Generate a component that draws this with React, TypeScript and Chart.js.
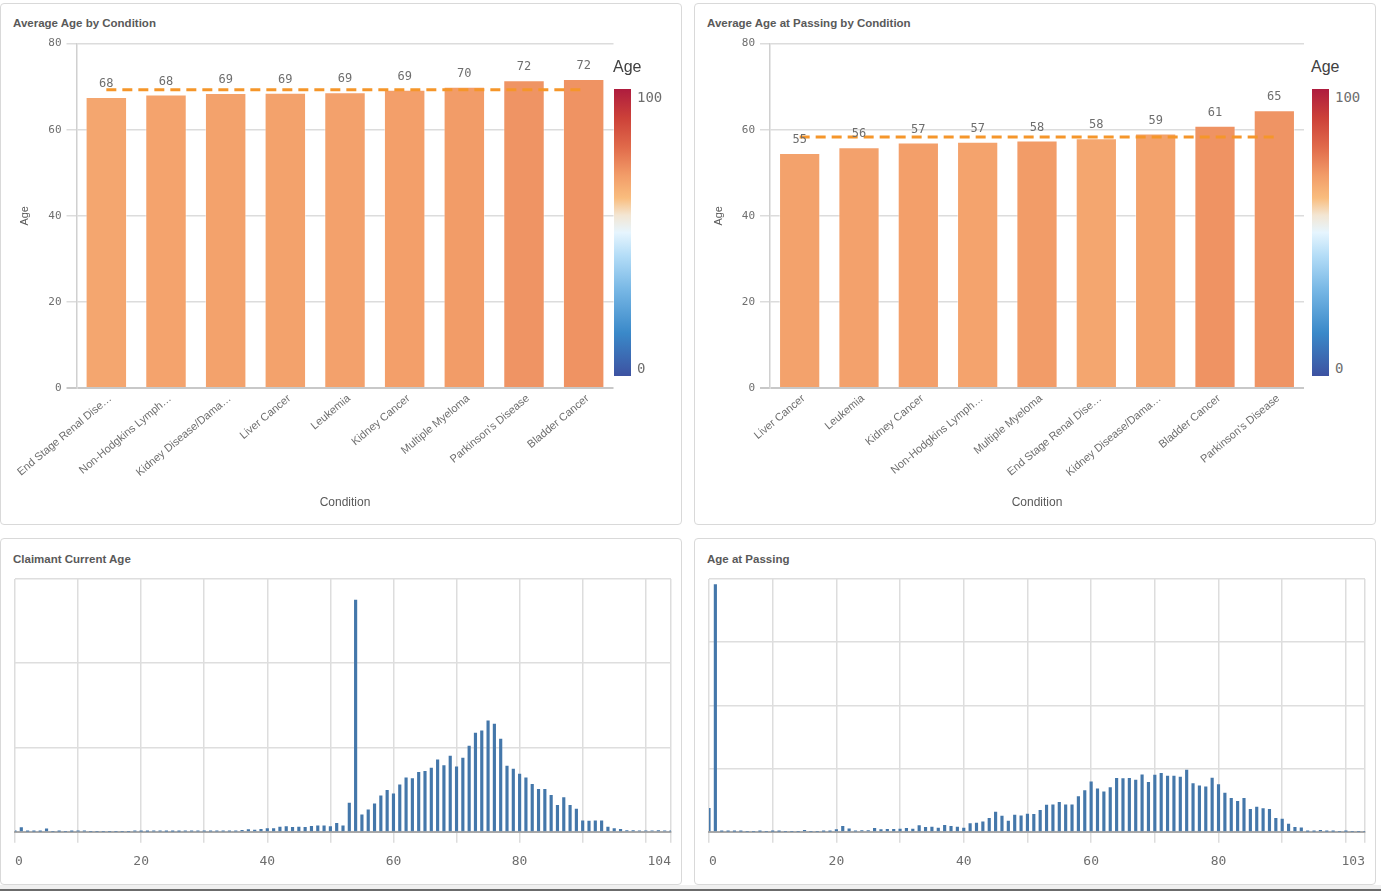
import React, { useEffect, useRef } from 'react';
import { Chart, registerables } from 'chart.js';
Chart.register(...registerables);

// ---------- DATA ----------
const conditionsA = ['End Stage Renal Dise…', 'Non-Hodgkins Lymph…', 'Kidney Disease/Dama…', 'Liver Cancer', 'Leukemia', 'Kidney Cancer', 'Multiple Myeloma', "Parkinson's Disease", 'Bladder Cancer'];
const avgAgeA = [67.6, 68.2, 68.5, 68.6, 68.7, 69.3, 70.0, 71.5, 71.8];
const avgLineA = 69.3;

const conditionsB = ['Liver Cancer', 'Leukemia', 'Kidney Cancer', 'Non-Hodgkins Lymph…', 'Multiple Myeloma', 'End Stage Renal Dise…', 'Kidney Disease/Dama…', 'Bladder Cancer', "Parkinson's Disease"];
const avgAgeB = [54.6, 55.9, 57.0, 57.2, 57.5, 58.0, 59.1, 60.9, 64.5];
const avgLineB = 58.3;

const barTicks = [0, 20, 40, 60, 80];
const legendRange = ['0', '100'];

// Claimant current age: count per age 0..104 (units: 100 per grid interval)
const currentAgeCounts = [
  0.5, 5, 0.3, 0.3, 0.3, 3.5, 0, 0.3, 0, 0.3,
  0.5, 0.5, 0, 0, 0, 0, 0, 0, 0, 0.5,
  0.3, 0.3, 0.5, 0.5, 0.3, 0.3, 0.3, 0.5, 0.5, 0.5,
  0.5, 0.5, 0.5, 0.6, 0.5, 0.5, 1.6, 2.4, 2, 2.8,
  3.6, 3.6, 5.6, 6, 5.2, 5.6, 5.2, 6.3, 7.1, 7.1,
  6, 10, 7.1, 34, 275, 20, 26, 33, 42.5, 49,
  45, 55.6, 64, 63, 70.6, 71.8, 75.4, 85.3, 78.6, 89.7,
  77, 87.3, 101.6, 117, 119.8, 131.7, 127.8, 110, 77.8, 74.2,
  68.3, 64, 56.3, 50.4, 50.4, 43.3, 31.3, 40.5, 31.3, 27,
  13, 12.7, 13, 13, 5.6, 3.6, 2.8, 1.2, 1.2, 0.8,
  0.8, 0.8, 1.2, 0.8, 0.5,
];
const currentAgeGrid = [0, 10, 20, 30, 40, 50, 60, 70, 80, 90, 100, 104];
const currentAgeLabels = ['0', '20', '40', '60', '80', '104'];

// Age at passing: count per age 0..103
const passingAgeCounts = [
  37, 391, 0.4, 0.4, 0.4, 0.4, 0, 0, 0.4, 0,
  0.4, 0.4, 0, 0, 0, 2, 0, 0, 0.5, 0.5,
  3.2, 8.4, 4.7, 1, 1.6, 1.6, 5.3, 3.2, 3.7, 3.7,
  4.2, 5.3, 4.2, 9.5, 6.9, 7.4, 5.8, 10, 8.4, 7.4,
  5.8, 12.7, 13.7, 15.8, 21, 31, 24.8, 16.9, 26.4, 25.3,
  28, 27.4, 33.8, 42.2, 42.7, 46.4, 42.7, 42.7, 55.4, 64.9,
  79.1, 68, 63.3, 70, 84.4, 83.9, 84.4, 81.8, 90.2, 78,
  89.7, 92.3, 88, 88, 86.5, 97.6, 76, 72.8, 71.2, 85,
  74.4, 61.2, 52.7, 48, 52.7, 35.3, 39, 36.4, 35.3, 21,
  20, 12.1, 6.9, 6.3, 0.5, 0.5, 2, 0.4, 0.4, 0,
  0.4, 0, 0, 0,
];
const passingAgeGrid = [0, 10, 20, 30, 40, 50, 60, 70, 80, 90, 100, 103];
const passingAgeLabels = ['0', '20', '40', '60', '80', '103'];

// ---------- STYLE ----------
const SANS = '"Liberation Sans", Arial, sans-serif';
const MONO = '"DejaVu Sans Mono", monospace';
const TEXT = '#595959';
const TICK = '#6e6e6e';
const colorStops: [number, string][] = [
  [0, '#3d52a1'], [0.15, '#3a89c9'], [0.3, '#77b7e5'], [0.42, '#b4ddf7'], [0.5, '#e6f5fe'],
  [0.56, '#f3e6d3'], [0.62, '#f9bd7e'], [0.7, '#f29c68'], [0.8, '#e0694a'], [0.9, '#cc4139'], [1, '#ae1c3e'],
];
function hexToRgb(h: string) {
  return [parseInt(h.slice(1, 3), 16), parseInt(h.slice(3, 5), 16), parseInt(h.slice(5, 7), 16)];
}
function ageColor(age: number) {
  const t = Math.max(0, Math.min(1, age / 100));
  for (let i = 1; i < colorStops.length; i++) {
    const [t1, c1] = colorStops[i];
    const [t0, c0] = colorStops[i - 1];
    if (t <= t1) {
      const f = (t - t0) / (t1 - t0);
      const a = hexToRgb(c0), b = hexToRgb(c1);
      const m = a.map((v, k) => Math.round(v + (b[k] - v) * f));
      return `rgb(${m[0]},${m[1]},${m[2]})`;
    }
  }
  return colorStops[colorStops.length - 1][1];
}
const colorByCondition: Record<string, number> = {};
conditionsA.forEach((c, i) => { colorByCondition[c] = avgAgeA[i]; });

const valueLabelPlugin = {
  id: 'valueLabels',
  afterDatasetsDraw(chart: any) {
    const ctx = chart.ctx;
    const meta = chart.getDatasetMeta(1);
    const ds = chart.data.datasets[1];
    ctx.save();
    ctx.font = `12px ${MONO}`;
    ctx.fillStyle = TICK;
    ctx.textAlign = 'center';
    ctx.textBaseline = 'middle';
    meta.data.forEach((el: any, i: number) => {
      ctx.fillText(String(Math.round(ds.data[i])), el.x, el.y - 13);
    });
    ctx.restore();
  },
};

type BarProps = {
  px: number; title: string; conditions: string[]; values: number[]; avg: number;
  plotLeft: number; plotRight: number; legendLeft: number;
};

function BarPanel({ px, title, conditions, values, avg, plotLeft, plotRight, legendLeft }: BarProps) {
  const ref = useRef<HTMLCanvasElement>(null);
  const cLeft = px + 4, cTop = 32, cW = 612, cH = 488;
  useEffect(() => {
    const chart = new Chart(ref.current!, {
      type: 'bar',
      data: {
        labels: conditions,
        datasets: [
          {
            type: 'line',
            data: conditions.map(() => avg),
            borderColor: '#f5962a',
            borderWidth: 3,
            borderDash: [10, 6],
            pointRadius: 0,
            order: 0,
          } as any,
          {
            type: 'bar',
            data: values,
            backgroundColor: conditions.map((c) => ageColor(colorByCondition[c])),
            borderColor: 'rgba(255,255,255,0.45)',
            borderWidth: 1,
            categoryPercentage: 1,
            barPercentage: 0.695,
            order: 1,
          },
        ],
      },
      options: {
        responsive: false,
        animation: false,
        layout: { padding: { top: 7, left: 0, right: cLeft + cW - plotRight, bottom: 0 } },
        plugins: { legend: { display: false }, tooltip: { enabled: false } },
        scales: {
          x: {
            grid: { display: false },
            border: { display: false },
            ticks: {
              maxRotation: 40, minRotation: 40, autoSkip: false, padding: -4, labelOffset: 4,
              color: TICK, font: { family: SANS, size: 11 },
            },
            title: { display: true, text: 'Condition', color: TEXT, font: { family: SANS, size: 12 }, padding: { top: 0, bottom: 10 } },
            afterFit: (s: any) => { s.height = cH - (388 - cTop); },
          },
          y: {
            min: 0, max: 80,
            afterBuildTicks: (s: any) => { s.ticks = barTicks.map((v) => ({ value: v })); },
            grid: {
              color: (c: any) => (c.tick && c.tick.value === 0 ? '#c8c8c8' : '#dcdcdc'),
              lineWidth: (c: any) => (c.tick && c.tick.value === 0 ? 2 : 1.5),
              tickLength: 10,
            },
            border: { display: true, color: '#d0d0d0', width: 1.5 },
            ticks: { color: TICK, font: { family: MONO, size: 11 }, padding: 5 },
            title: { display: true, text: 'Age', color: TEXT, font: { family: SANS, size: 11 }, padding: { top: 14, bottom: 0 } },
            afterFit: (s: any) => { s.width = plotLeft - cLeft; },
          },
        },
      },
      plugins: [valueLabelPlugin],
    });
    return () => chart.destroy();
  }, []);
  const gradient = `linear-gradient(to top, ${colorStops.map(([t, c]) => `${c} ${t * 100}%`).join(', ')})`;
  return (
    <>
      <div style={{ position: 'absolute', left: px, top: 3, width: 680, height: 520, border: '1px solid #d9d9d9', borderRadius: 4, boxSizing: 'content-box' }} />
      <div style={{ position: 'absolute', left: px + 13, top: 16, font: `bold 11.5px ${SANS}`, lineHeight: '14px', color: TEXT, whiteSpace: 'nowrap' }}>{title}</div>
      <canvas ref={ref} width={cW} height={cH} style={{ position: 'absolute', left: cLeft, top: cTop, width: cW, height: cH }} />
      <div style={{ position: 'absolute', left: legendLeft, top: 58, font: `16px ${SANS}`, lineHeight: '18px', color: '#404040' }}>Age</div>
      <div style={{ position: 'absolute', left: legendLeft + 0.5, top: 89, width: 17, height: 287, background: gradient }} />
      <div style={{ position: 'absolute', left: legendLeft + 24, top: 89, font: `14px ${MONO}`, lineHeight: '16px', color: TICK }}>{legendRange[1]}</div>
      <div style={{ position: 'absolute', left: legendLeft + 24, top: 360, font: `14px ${MONO}`, lineHeight: '16px', color: TICK }}>{legendRange[0]}</div>
    </>
  );
}

type HistProps = {
  px: number; title: string; counts: number[]; grid: number[]; labels: string[];
  yMax: number; plotLeft: number; plotRight: number;
};

function HistPanel({ px, title, counts, grid, labels, yMax, plotLeft, plotRight }: HistProps) {
  const ref = useRef<HTMLCanvasElement>(null);
  const cLeft = px + 4, cTop = 570, cW = 678, cH = 310;
  const xMax = grid[grid.length - 1];
  useEffect(() => {
    const chart = new Chart(ref.current!, {
      type: 'bar',
      data: {
        datasets: [
          {
            data: counts.map((v, age) => ({ x: age, y: v })),
            backgroundColor: '#4477aa',
            barThickness: 2.5,
            borderWidth: 0,
          } as any,
        ],
      },
      options: {
        responsive: false,
        animation: false,
        layout: { padding: { top: 579 - cTop, left: plotLeft - cLeft, right: cLeft + cW - plotRight, bottom: 0 } },
        plugins: { legend: { display: false }, tooltip: { enabled: false } },
        scales: {
          x: {
            type: 'linear',
            min: 0, max: xMax,
            offset: false,
            afterBuildTicks: (s: any) => { s.ticks = grid.map((v) => ({ value: v })); },
            grid: { color: '#dddddd', lineWidth: 1.5, tickLength: 11, offset: false },
            border: { display: true, color: '#a9a9a9', width: 2 },
            ticks: {
              align: 'inner', autoSkip: false, maxRotation: 0, padding: 11,
              color: TICK, font: { family: MONO, size: 13 },
              callback: (v: any) => (labels.includes(String(v)) ? String(v) : ''),
            },
            afterFit: (s: any) => { s.height = cH - (831.7 - cTop); },
          },
          y: {
            min: 0, max: yMax,
            ticks: { display: false, stepSize: 100 },
            grid: {
              color: (c: any) => (c.tick && c.tick.value === 0 ? 'rgba(0,0,0,0)' : '#dedede'),
              lineWidth: 1.5, drawTicks: false,
            },
            border: { display: false },
            afterFit: (s: any) => { s.width = 0; },
          },
        },
      },
    });
    return () => chart.destroy();
  }, []);
  return (
    <>
      <div style={{ position: 'absolute', left: px, top: 538, width: 680, height: 345, border: '1px solid #d9d9d9', borderRadius: 4 }} />
      <div style={{ position: 'absolute', left: px + 13, top: 552, font: `bold 11.5px ${SANS}`, lineHeight: '14px', color: TEXT, whiteSpace: 'nowrap' }}>{title}</div>
      <canvas ref={ref} width={cW} height={cH} style={{ position: 'absolute', left: cLeft, top: cTop, width: cW, height: cH }} />
    </>
  );
}

export default function App() {
  return (
    <div style={{ position: 'absolute', left: 0, top: 0, width: 1381, height: 891, background: '#ffffff', overflow: 'hidden' }}>
      <BarPanel px={0} title="Average Age by Condition" conditions={conditionsA} values={avgAgeA} avg={avgLineA} plotLeft={76.5} plotRight={613.5} legendLeft={613} />
      <BarPanel px={694} title="Average Age at Passing by Condition" conditions={conditionsB} values={avgAgeB} avg={avgLineB} plotLeft={770} plotRight={1304} legendLeft={1311} />
      <HistPanel px={0} title="Claimant Current Age" counts={currentAgeCounts} grid={currentAgeGrid} labels={currentAgeLabels} yMax={300} plotLeft={14} plotRight={675} />
      <HistPanel px={694} title="Age at Passing" counts={passingAgeCounts} grid={passingAgeGrid} labels={passingAgeLabels} yMax={400} plotLeft={707.7} plotRight={1365.7} />
      <div style={{ position: 'absolute', left: 0, top: 885, width: 1381, height: 4, background: '#f0f0f0' }} />
      <div style={{ position: 'absolute', left: 0, top: 889, width: 1381, height: 2, background: '#6b6b6b' }} />
    </div>
  );
}
